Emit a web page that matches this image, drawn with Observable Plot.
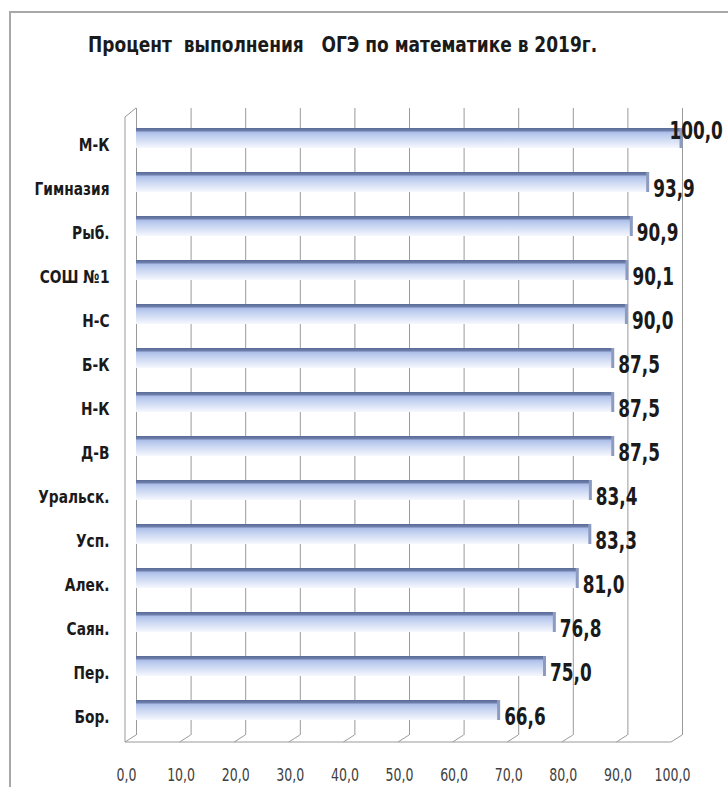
<!DOCTYPE html>
<html>
<head>
<meta charset="utf-8">
<script src="https://cdn.jsdelivr.net/npm/d3@7"></script>
<script src="https://cdn.jsdelivr.net/npm/@observablehq/plot@0.6"></script>
<style>
  html, body { margin: 0; padding: 0; background: #fff; }
  #wrap { position: relative; width: 728px; height: 787px; overflow: hidden; background: #fff; }
  #frame { position: absolute; left: 9px; top: 11px; width: 760px; height: 820px; border: 2px solid #a8a8a8; box-sizing: border-box; }
  #title { position: absolute; left: 88px; top: 32px; font-family: 'DejaVu Sans Condensed', 'DejaVu Sans', sans-serif; font-weight: bold; font-size: 22px; color: #1a1a1a; white-space: pre; transform: scaleX(0.86); transform-origin: 0 0; }
  #chart { position: absolute; left: 0; top: 0; }
</style>
</head>
<body>
<div id="wrap">
  <div id="frame"></div>
  <div id="title">Процент  выполнения   ОГЭ по математике в 2019г.</div>
  <div id="chart"></div>
</div>
<script>
const categories = ["М-К", "Гимназия", "Рыб.", "СОШ №1", "Н-С", "Б-К", "Н-К", "Д-В", "Уральск.", "Усп.", "Алек.", "Саян.", "Пер.", "Бор."];
const values = [100.0, 93.9, 90.9, 90.1, 90.0, 87.5, 87.5, 87.5, 83.4, 83.3, 81.0, 76.8, 75.0, 66.6];
const xTicks = [0, 10, 20, 30, 40, 50, 60, 70, 80, 90, 100];

const data = categories.map((name, i) => ({name, value: values[i]}));
const fmt = v => v.toFixed(1).replace(".", ",");
const font = "'DejaVu Sans Condensed', 'DejaVu Sans', sans-serif";

const plot = Plot.plot({
  width: 728,
  height: 787,
  marginTop: 108,
  marginBottom: 52,
  marginLeft: 136,
  marginRight: 46,
  style: {fontFamily: font, background: "transparent", overflow: "visible"},
  x: {domain: [0, 100]},
  y: {domain: categories, range: [110.6, 737.8], paddingInner: 0.55, paddingOuter: 0.275},
  marks: [
    Plot.ruleX(xTicks, {x: d => d, stroke: "#9a9a9a", strokeWidth: 1}),
    Plot.barX(data, {x: "value", y: "name", fill: "url(#barGrad)"}),
    Plot.tickX(data, {x: "value", y: "name", stroke: "#8e9bc1", strokeWidth: 3, dx: -1.5}),
    Plot.text(data.filter(d => d.value < 100), {x: "value", y: "name", text: d => fmt(d.value), textAnchor: "start", dx: 4, dy: 6, fontSize: 25, fontWeight: "bold", fill: "#1a1a1a"}),
    Plot.text(data.filter(d => d.value >= 100), {x: "value", y: "name", text: d => fmt(d.value), textAnchor: "start", dx: -13, dy: -8, fontSize: 25, fontWeight: "bold", fill: "#1a1a1a"}),
    Plot.axisY({tickSize: 0, tickPadding: 27, dy: 7, fontSize: 18, fontWeight: "bold", fill: "#1a1a1a", label: null}),
    Plot.axisX({ticks: xTicks, tickFormat: fmt, tickSize: 0, tickPadding: 33, dx: -10, fontSize: 17, fill: "#404040", label: null})
  ]
});

document.getElementById("chart").appendChild(plot);

const svg = d3.select(plot);
svg.insert("defs", ":first-child").html(`
  <linearGradient id="barGrad" x1="0" y1="0" x2="0" y2="1">
    <stop offset="0" stop-color="#5b6b98"/>
    <stop offset="0.15" stop-color="#6f80ad"/>
    <stop offset="0.2" stop-color="#aabce6"/>
    <stop offset="0.35" stop-color="#bccbef"/>
    <stop offset="1" stop-color="#f6f8fd"/>
  </linearGradient>`);

// condensed look (the reference uses a narrow font)
function condense(selector, k) {
  svg.selectAll(selector).each(function() {
    const len = this.getComputedTextLength();
    if (len > 0) {
      this.setAttribute("textLength", len * k);
      this.setAttribute("lengthAdjust", "spacingAndGlyphs");
    }
  });
}
condense('g[aria-label="text"] text', 0.75);
condense('g[aria-label="y-axis tick label"] text', 0.85);
condense('g[aria-label="x-axis tick label"] text', 0.82);

// 3D floor and left wall drawn with the plot's own x scale
const xs = plot.scale("x");
const back = 735, front = 742, off = 11;
const g = svg.append("g").attr("stroke", "#9a9a9a").attr("fill", "none").attr("stroke-width", 1);
xTicks.forEach(t => {
  const bx = xs.apply(t);
  g.append("line").attr("x1", bx - off).attr("y1", front).attr("x2", bx).attr("y2", back);
});
g.append("line").attr("x1", xs.apply(0) - off).attr("y1", front).attr("x2", xs.apply(100) - off).attr("y2", front);
g.append("line").attr("x1", xs.apply(0) - off).attr("y1", front).attr("x2", xs.apply(0) - off).attr("y2", 117);
g.append("line").attr("x1", xs.apply(0) - off).attr("y1", 117).attr("x2", xs.apply(0)).attr("y2", 108);
</script>
</body>
</html>
